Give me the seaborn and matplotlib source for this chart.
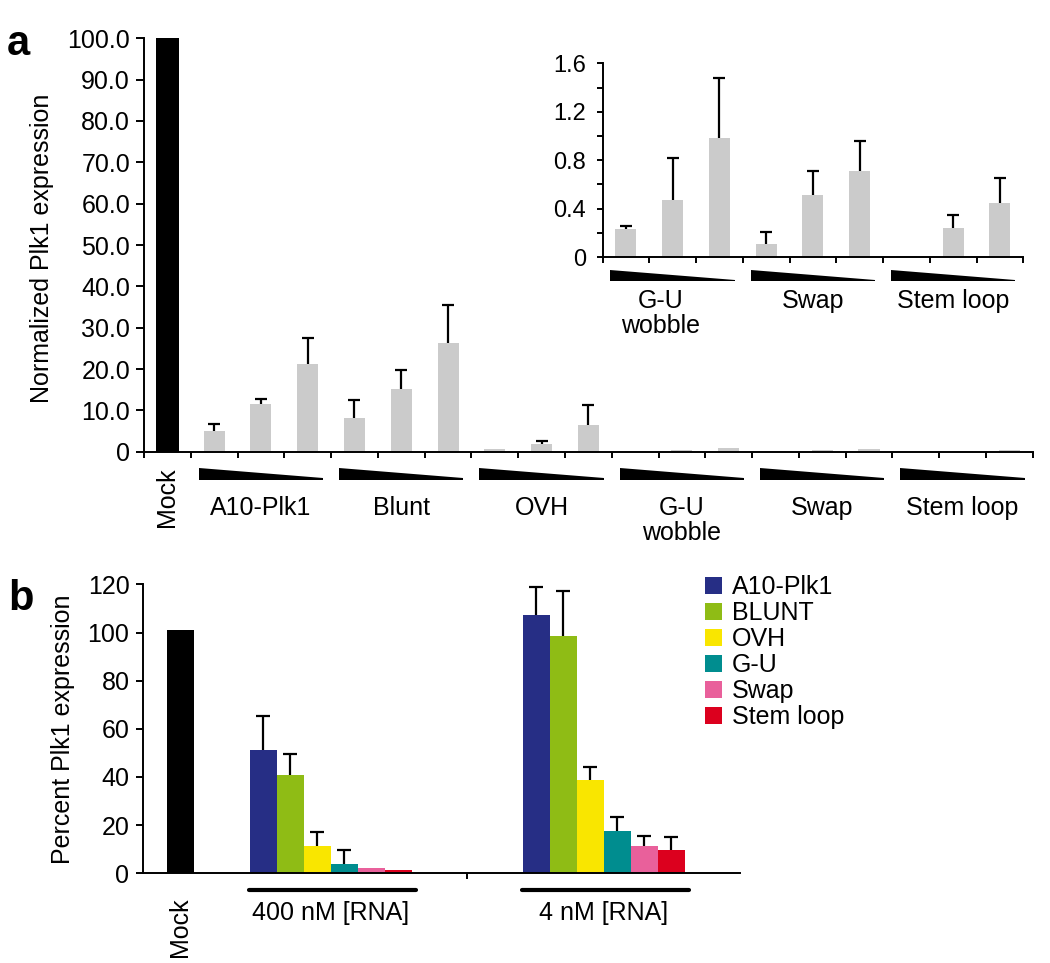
import numpy as np
import pandas as pd
import matplotlib
matplotlib.use("Agg")
import matplotlib.pyplot as plt
import matplotlib.transforms as mtrans
from matplotlib.patches import Patch
from matplotlib.ticker import FuncFormatter, MultipleLocator
import seaborn as sns

# ---- panel a data (normalized Plk1 expression, three doses per construct)
groups_a = ["A10-Plk1", "Blunt", "OVH", "G-U\nwobble", "Swap", "Stem loop"]
mock_a = 100.0
a10_plk1 = [5.0, 11.6, 21.2]
a10_plk1_sd = [1.8, 1.2, 6.4]
blunt = [8.1, 15.1, 26.4]
blunt_sd = [4.5, 4.7, 9.2]
ovh = [0.6, 1.9, 6.5]
ovh_sd = [0.0, 0.8, 4.7]
gu_wobble = [0.23, 0.47, 0.98]
gu_wobble_sd = [0.03, 0.35, 0.50]
swap = [0.11, 0.51, 0.71]
swap_sd = [0.10, 0.20, 0.25]
stem_loop = [0.005, 0.24, 0.45]
stem_loop_sd = [0.0, 0.11, 0.20]

# ---- panel b data (percent Plk1 expression)
constructs_b = ["A10-Plk1", "BLUNT", "OVH", "G-U", "Swap", "Stem loop"]
doses_b = ["400 nM [RNA]", "4 nM [RNA]"]
mock_b = 101.0
pct_400nM = [51.2, 40.7, 11.3, 4.0, 2.1, 1.4]
pct_400nM_sd = [14.3, 9.0, 6.0, 5.8, 0.0, 0.0]
pct_4nM = [107.1, 98.7, 38.6, 17.6, 11.3, 9.7]
pct_4nM_sd = [11.9, 18.5, 5.5, 5.6, 4.3, 5.4]

colors_b = ["#262e85", "#8fbc15", "#f9e600", "#008d8f", "#e9609b", "#dc001e"]
gray = "#cbcbcb"

sns.set_theme(style="ticks")
plt.rcParams["font.family"] = ["Liberation Sans", "DejaVu Sans"]
plt.rcParams["font.size"] = 18
plt.rcParams["text.color"] = "black"
plt.rcParams["axes.labelcolor"] = "black"
plt.rcParams["axes.edgecolor"] = "black"
plt.rcParams["xtick.color"] = "black"
plt.rcParams["ytick.color"] = "black"
plt.rcParams["axes.linewidth"] = 1.4
plt.rcParams["xtick.major.width"] = 1.4
plt.rcParams["ytick.major.width"] = 1.4
plt.rcParams["ytick.minor.width"] = 1.4

W, H = 1050, 963
fig = plt.figure(figsize=(W / 100, H / 100), dpi=100)


def px_axes(left, top, right, bottom):
    return fig.add_axes([left / W, 1 - bottom / H, (right - left) / W, (bottom - top) / H])


def wedges(ax, n_groups, first, y_top, y_bot, pad=0.17):
    trans = mtrans.blended_transform_factory(ax.transData, ax.transAxes)
    for g in range(n_groups):
        x0 = first + 3 * g - 0.5 + pad
        x1 = first + 3 * g + 2.5 - pad
        ax.fill([x0, x0, x1, x1], [y_top, y_bot, y_bot, y_bot + 0.004],
                color="black", lw=0, transform=trans, clip_on=False)


def upper_errors(ax, x, y, sd, capsize=4):
    # one-sided (upper) error bars, drop the cap that sits on the bar top
    _, caps, _ = ax.errorbar(x, y, yerr=[np.zeros(len(sd)), sd], fmt="none",
                             ecolor="black", elinewidth=1.6, capsize=capsize, capthick=1.6)
    caps[0].remove()


# build the panel a table
bar_ids = ["Mock"] + [f"{g}|{i}" for g in groups_a for i in range(3)]
vals_a = [mock_a] + a10_plk1 + blunt + ovh + gu_wobble + swap + stem_loop
sd_a = [0.0] + a10_plk1_sd + blunt_sd + ovh_sd + gu_wobble_sd + swap_sd + stem_loop_sd
df_a = pd.DataFrame({"bar": bar_ids, "value": vals_a, "sd": sd_a})
pal_a = {b: ("black" if b == "Mock" else gray) for b in bar_ids}

# ---------------- panel a, main
ax = px_axes(144, 38.3, 1032.7, 451.7)
sns.barplot(data=df_a, x="bar", y="value", hue="bar", order=bar_ids, palette=pal_a,
            width=0.45, saturation=1, linewidth=0, errorbar=None, legend=False, ax=ax)
for p in ax.patches:
    if abs(p.get_height() - mock_a) < 1e-6:
        p.set_width(0.48)
        p.set_x(-0.24)
sel = df_a.iloc[1:10]
sel = sel[sel["sd"] > 0]
upper_errors(ax, sel.index, sel["value"], sel["sd"])
ax.set_xlim(-0.5, 18.5)
ax.set_ylim(0, 100)
ax.set_yticks(np.arange(0, 101, 10))
ax.yaxis.set_major_formatter(FuncFormatter(lambda v, _: "0" if v == 0 else f"{v:.1f}"))
ax.set_xticks(np.arange(-0.5, 18.6, 1))
ax.set_xticklabels([])
ax.tick_params(axis="y", length=6, pad=4, labelsize=18)
ax.tick_params(axis="x", length=4)
ax.set_xlabel("")
ax.set_ylabel("")
sns.despine(ax=ax)
wedges(ax, 6, 1, -0.039, -0.068)
tra = mtrans.blended_transform_factory(ax.transData, ax.transAxes)
for g, name in enumerate(groups_a):
    ax.text(2 + 3 * g, -0.107, name, ha="center", va="top", fontsize=18,
            linespacing=1.05, transform=tra)
ax.text(0, -0.038, "Mock", rotation=90, ha="center", va="top", fontsize=18, transform=tra)
fig.text(42 / W, 1 - 248 / H, "Normalized Plk1 expression", rotation=90,
         ha="center", va="center", fontsize=18)

# ---------------- panel a, inset
ins_ids = bar_ids[10:]
df_in = df_a.iloc[10:].reset_index(drop=True)
axi = px_axes(602.5, 63.3, 1023.3, 257)
sns.barplot(data=df_in, x="bar", y="value", hue="bar", order=ins_ids, palette=pal_a,
            width=0.45, saturation=1, linewidth=0, errorbar=None, legend=False, ax=axi)
seli = df_in[df_in["sd"] > 0]
upper_errors(axi, seli.index, seli["value"], seli["sd"])
axi.set_xlim(-0.5, 8.5)
axi.set_ylim(0, 1.6)
axi.set_yticks([0, 0.4, 0.8, 1.2, 1.6])
axi.yaxis.set_minor_locator(MultipleLocator(0.2))
axi.yaxis.set_major_formatter(FuncFormatter(lambda v, _: f"{v:g}"))
axi.set_xticks(np.arange(-0.5, 8.6, 1))
axi.set_xticklabels([])
axi.tick_params(axis="y", which="both", length=4, pad=8, labelsize=17)
axi.tick_params(axis="x", length=4)
axi.set_xlabel("")
axi.set_ylabel("")
sns.despine(ax=axi)
wedges(axi, 3, 0, -0.067, -0.124)
tri = mtrans.blended_transform_factory(axi.transData, axi.transAxes)
for g, name in enumerate(groups_a[3:]):
    shift = -0.25 if g == 0 else 0.0
    axi.text(1 + 3 * g + shift, -0.165, name, ha="center", va="top", fontsize=18,
             linespacing=1.05, transform=tri)

# ---------------- panel b
rows = [{"pos": 1.36, "value": mock_b, "sd": 0.0, "construct": "Mock", "dose": "Mock"}]
starts = [4.45, 14.56]
for d, (dose, vals, sds) in enumerate(zip(doses_b, [pct_400nM, pct_4nM], [pct_400nM_sd, pct_4nM_sd])):
    for i, c in enumerate(constructs_b):
        rows.append({"pos": starts[d] + i, "value": vals[i], "sd": sds[i], "construct": c, "dose": dose})
df_b = pd.DataFrame(rows)
pal_b = dict(zip(constructs_b, colors_b))
pal_b["Mock"] = "black"

axb = px_axes(143.3, 584.4, 740, 873.3)
sns.barplot(data=df_b, x="pos", y="value", hue="construct", palette=pal_b,
            hue_order=["Mock"] + constructs_b, native_scale=True, dodge=False,
            width=1.0, saturation=1, linewidth=0, errorbar=None, legend=False, ax=axb)
selb = df_b[df_b["sd"] > 0]
upper_errors(axb, selb["pos"].values, selb["value"].values, selb["sd"].values, capsize=5)
axb.set_xlim(0, 22.1)
axb.set_ylim(0, 120)
axb.set_yticks(np.arange(0, 121, 20))
axb.set_xticks([(starts[0] + 5.5 + starts[1] - 0.5) / 2])
axb.set_xticklabels([])
axb.tick_params(axis="y", length=5, pad=5, labelsize=18)
axb.tick_params(axis="x", length=4)
axb.set_xlabel("")
axb.set_ylabel("")
sns.despine(ax=axb)
trb = mtrans.blended_transform_factory(axb.transData, axb.transAxes)
for d, dose in enumerate(doses_b):
    s = starts[d]
    axb.plot([s - 0.55, s + 5.65], [-0.058, -0.058], color="black", lw=3,
             transform=trb, clip_on=False)
    axb.text(s + 2.5, -0.096, dose, ha="center", va="top", fontsize=18, transform=trb)
axb.text(1.36, -0.082, "Mock", rotation=90, ha="center", va="top", fontsize=18, transform=trb)
fig.text(63 / W, 1 - 729 / H, "Percent Plk1 expression", rotation=90,
         ha="center", va="center", fontsize=18)

handles = [Patch(facecolor=c, edgecolor="none") for c in colors_b]
fig.legend(handles, constructs_b, loc="upper left", bbox_to_anchor=(705 / W, 1 - 575 / H),
           frameon=False, handlelength=0.67, handleheight=0.67, handletextpad=0.4,
           labelspacing=0.08, borderpad=0, borderaxespad=0, fontsize=18)

# panel letters
fig.text(7 / W, 1 - 55 / H, "a", fontsize=30, fontweight="bold", va="baseline")
fig.text(8 / W, 1 - 610 / H, "b", fontsize=30, fontweight="bold", va="baseline")

fig.savefig("out.png", dpi=100)
